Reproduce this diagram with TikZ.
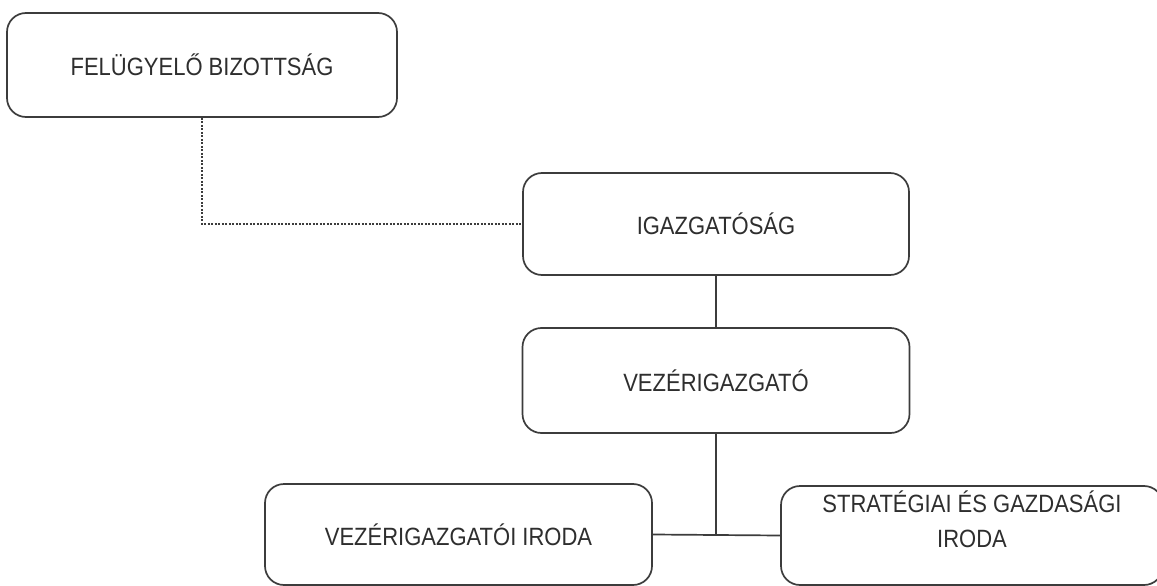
\documentclass[tikz,border=0pt]{standalone}
\usepackage{fontspec}
\setmainfont[FakeStretch=0.88]{Liberation Sans}
\begin{document}
\begin{tikzpicture}[x=1pt,y=-1pt,
  orgbox/.style={draw=linegray, line width=1.7pt, rounded corners=19pt,
    inner sep=0pt, font=\fontsize{25}{35}\selectfont, text=textgray},
  orglabel/.style={inner sep=0pt, align=center,
    font=\fontsize{25}{35}\selectfont, text=textgray},
  link/.style={draw=linegray, line width=1.7pt},
  dotlink/.style={draw=linegray, line width=2.3pt, dash pattern=on 2pt off 1.5pt}]
\definecolor{linegray}{HTML}{3C3C3C}
\definecolor{textgray}{HTML}{2E2E2E}
\useasboundingbox (0,0) rectangle (1157,586);
\fill[white] (0,0) rectangle (1157,586);
\clip (0,0) rectangle (1157,586);

% boxes of the organisation chart
\node[orgbox, minimum width=390pt, minimum height=104pt] (fb) at (202,65) {FELÜGYELŐ BIZOTTSÁG};
\node[orgbox, minimum width=386pt, minimum height=102pt] (ig) at (716,224) {IGAZGATÓSÁG};
\node[orgbox, minimum width=387pt, minimum height=105pt] (vz) at (716,380.5) {VEZÉRIGAZGATÓ};
\node[orgbox, minimum width=387pt, minimum height=101pt] (vi) at (458.5,534.5) {VEZÉRIGAZGATÓI IRODA};
\node[orgbox, minimum width=382pt, minimum height=99pt] (sg) at (972,535.5) {};
\node[orglabel, anchor=north] (sgt) at (972,491) {STRATÉGIAI ÉS GAZDASÁGI\\IRODA};

% connectors
\draw[dotlink] (fb.south) |- (ig.west);
\draw[link] (ig.south) -- (vz.north);
\coordinate (jn) at (vz.south |- vi.east);
\draw[link] (vz.south) -- (jn);
\draw[link] (vi.east) -- (sg.west);
\end{tikzpicture}
\end{document}
